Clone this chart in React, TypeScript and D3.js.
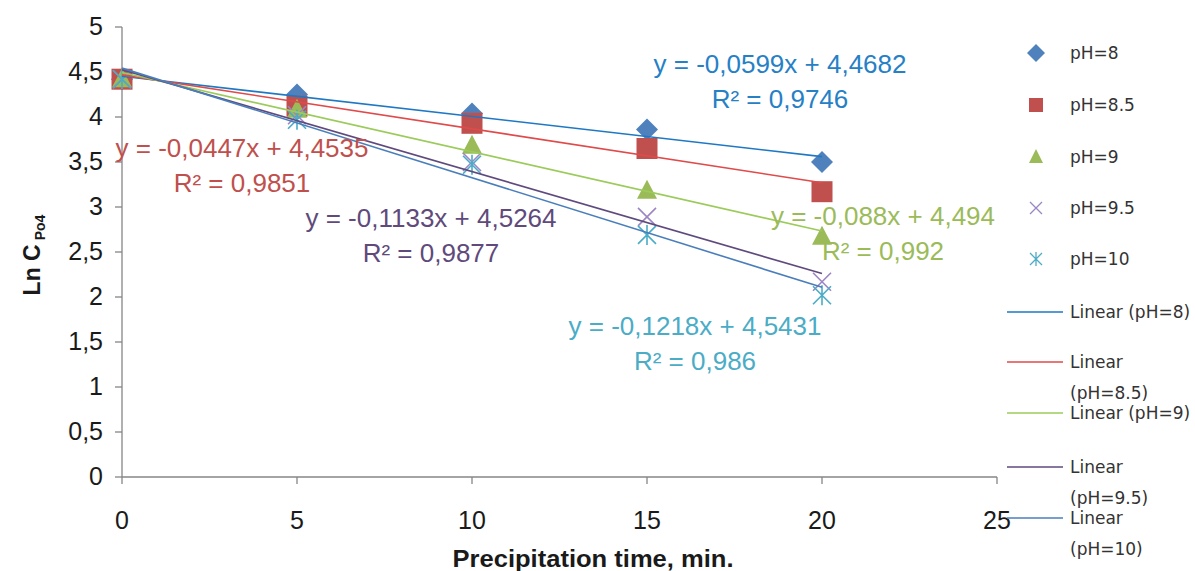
import React from "react";
import * as d3 from "d3";

const times = [0, 5, 10, 15, 20];
const seriesNames = ["pH=8", "pH=8.5", "pH=9", "pH=9.5", "pH=10"];
const pH8 = [4.42, 4.25, 4.04, 3.86, 3.5];
const pH85 = [4.42, 4.12, 3.93, 3.65, 3.17];
const pH9 = [4.42, 4.08, 3.68, 3.18, 2.67];
const pH95 = [4.42, 4.02, 3.5, 2.89, 2.17];
const pH10 = [4.42, 3.97, 3.47, 2.69, 2.02];
const seriesValues = [pH8, pH85, pH9, pH95, pH10];

// trendline coefficients (as printed on the chart)
const trendSlopes = [-0.0447, -0.0599, -0.088, -0.1133, -0.1218];
const trendIntercepts = [4.4535, 4.4682, 4.494, 4.5264, 4.5431];

const eqLine1 = ["y = -0,0599x + 4,4682", "y = -0,0447x + 4,4535", "y = -0,088x + 4,494", "y = -0,1133x + 4,5264", "y = -0,1218x + 4,5431"];
const eqLine2 = ["R² = 0,9746", "R² = 0,9851", "R² = 0,992", "R² = 0,9877", "R² = 0,986"];

const xTicks = [0, 5, 10, 15, 20, 25];
const yTicks = [0, 0.5, 1, 1.5, 2, 2.5, 3, 3.5, 4, 4.5, 5];

const markerColors = ["#4F81BD", "#C0504D", "#9BBB59", "#9B85C4", "#4BACC6"];
const trendColors = ["#1F78C4", "#E04A4A", "#9BCB5A", "#5F4A7E", "#4A7EBB"];
const eqColors = ["#2580C6", "#C0504D", "#9BBB59", "#604A7B", "#4BACC6"];
const eqPos = [
  { x: 780, y: 73 },
  { x: 242, y: 157 },
  { x: 883, y: 225 },
  { x: 431, y: 227 },
  { x: 695, y: 335 },
];

const W = 1195;
const H = 571;

function Marker({ kind, cx, cy, color }: { kind: number; cx: number; cy: number; color: string }) {
  if (kind === 0) {
    const r = 11;
    return <path d={`M${cx},${cy - r}L${cx + r},${cy}L${cx},${cy + r}L${cx - r},${cy}Z`} fill={color} />;
  }
  if (kind === 1) {
    const s = 21;
    return <rect x={cx - s / 2} y={cy - s / 2} width={s} height={s} fill={color} />;
  }
  if (kind === 2) {
    return <path d={`M${cx},${cy - 11}L${cx + 10},${cy + 8}L${cx - 10},${cy + 8}Z`} fill={color} />;
  }
  if (kind === 3) {
    const r = 9;
    return (
      <path
        d={`M${cx - r},${cy - r}L${cx + r},${cy + r}M${cx - r},${cy + r}L${cx + r},${cy - r}`}
        stroke={color}
        strokeWidth={1.6}
        fill="none"
      />
    );
  }
  const r = 9;
  return (
    <path
      d={`M${cx - r},${cy - r}L${cx + r},${cy + r}M${cx - r},${cy + r}L${cx + r},${cy - r}M${cx},${cy - 10}L${cx},${cy + 10}`}
      stroke={color}
      strokeWidth={1.6}
      fill="none"
    />
  );
}

export default function App() {
  const x = d3.scaleLinear().domain([0, 25]).range([122, 997]);
  const y = d3.scaleLinear().domain([0, 5]).range([477, 27]);
  const axisColor = "#868686";
  const font = "'Liberation Sans', Arial, sans-serif";
  const legendFont = "'DejaVu Sans', sans-serif";

  const legendRowsY = [53, 105, 157, 208, 259];
  const trendLegend = [
    { ly: 312, lines: ["Linear (pH=8)"] },
    { ly: 362, lines: ["Linear", "(pH=8.5)"] },
    { ly: 413, lines: ["Linear (pH=9)"] },
    { ly: 467, lines: ["Linear", "(pH=9.5)"] },
    { ly: 518, lines: ["Linear", "(pH=10)"] },
  ];

  const line = d3.line<number>();

  return (
    <svg width={W} height={H} style={{ position: "absolute", left: 0, top: 0, background: "#fff" }}>
      <rect x={0} y={0} width={W} height={H} fill="#fff" />
      {/* axes */}
      <line x1={x(0)} y1={y(5)} x2={x(0)} y2={y(0)} stroke={axisColor} strokeWidth={1.3} />
      <line x1={x(0)} y1={y(0)} x2={x(25)} y2={y(0)} stroke={axisColor} strokeWidth={1.3} />
      {yTicks.map((t) => (
        <g key={"y" + t}>
          <line x1={x(0) - 7} x2={x(0)} y1={y(t)} y2={y(t)} stroke={axisColor} strokeWidth={1.3} />
          <text x={103} y={y(t) + 8} textAnchor="end" fontFamily={font} fontSize={25} fill="#1a1a1a">
            {String(t).replace(".", ",")}
          </text>
        </g>
      ))}
      {xTicks.map((t) => (
        <g key={"x" + t}>
          <line x1={x(t)} x2={x(t)} y1={y(0)} y2={y(0) + 7} stroke={axisColor} strokeWidth={1.3} />
          <text x={x(t)} y={529} textAnchor="middle" fontFamily={font} fontSize={25} fill="#1a1a1a">
            {String(t)}
          </text>
        </g>
      ))}
      {/* axis titles */}
      <text
        x={593}
        y={567}
        textAnchor="middle"
        fontFamily={font}
        fontWeight="bold"
        fontSize={24}
        fill="#1a1a1a"
        textLength={281}
        lengthAdjust="spacingAndGlyphs"
      >
        Precipitation time, min.
      </text>
      <text
        transform="translate(40,255) rotate(-90)"
        textAnchor="middle"
        fontFamily={font}
        fontWeight="bold"
        fontSize={23}
        fill="#1a1a1a"
      >
        Ln C
        <tspan fontSize={14} dy={5} dx={4}>
          Po4
        </tspan>
      </text>
      {/* markers */}
      {seriesValues.map((vals, si) => (
        <g key={"m" + si}>
          {vals.map((v, i) => (
            <Marker key={i} kind={si} cx={x(times[i])} cy={y(v)} color={markerColors[si]} />
          ))}
        </g>
      ))}
      {/* trendlines */}
      {trendSlopes.map((s, si) => {
        const pts: [number, number][] = [times[0], times[times.length - 1]].map((t) => [
          x(t),
          y(s * t + trendIntercepts[si]),
        ]);
        return <path key={"t" + si} d={line(pts as any) || ""} stroke={trendColors[si]} strokeWidth={1.6} fill="none" />;
      })}
      {/* equation labels */}
      {eqLine1.map((t, i) => (
        <g key={"eq" + i} fontFamily={font} fontSize={26} fill={eqColors[i]} textAnchor="middle">
          <text x={eqPos[i].x} y={eqPos[i].y}>
            {t}
          </text>
          <text x={eqPos[i].x} y={eqPos[i].y + 35}>
            {eqLine2[i]}
          </text>
        </g>
      ))}
      {/* legend: series */}
      {seriesNames.map((n, i) => (
        <g key={"l" + i}>
          {i === 0 ? (
            <path d={`M1036,${legendRowsY[i] - 9}L1045,${legendRowsY[i]}L1036,${legendRowsY[i] + 9}L1027,${legendRowsY[i]}Z`} fill={markerColors[i]} />
          ) : i === 1 ? (
            <rect x={1029} y={legendRowsY[i] - 7} width={14} height={14} fill={markerColors[i]} />
          ) : i === 2 ? (
            <path d={`M1036,${legendRowsY[i] - 8}L1043,${legendRowsY[i] + 6}L1029,${legendRowsY[i] + 6}Z`} fill={markerColors[i]} />
          ) : i === 3 ? (
            <path
              d={`M1030,${legendRowsY[i] - 6}L1042,${legendRowsY[i] + 6}M1030,${legendRowsY[i] + 6}L1042,${legendRowsY[i] - 6}`}
              stroke={markerColors[i]}
              strokeWidth={1.3}
            />
          ) : (
            <path
              d={`M1030,${legendRowsY[i] - 6}L1042,${legendRowsY[i] + 6}M1030,${legendRowsY[i] + 6}L1042,${legendRowsY[i] - 6}M1036,${legendRowsY[i] - 7}L1036,${legendRowsY[i] + 7}`}
              stroke={markerColors[i]}
              strokeWidth={1.3}
            />
          )}
          <text x={1070} y={legendRowsY[i] + 6} fontFamily={legendFont} fontSize={17} fill="#333">
            {n}
          </text>
        </g>
      ))}
      {/* legend: trendlines */}
      {trendLegend.map((r, i) => (
        <g key={"tl" + i}>
          <line x1={1007} x2={1063} y1={r.ly} y2={r.ly} stroke={trendColors[i]} strokeWidth={1.6} />
          {r.lines.map((s, j) => (
            <text key={j} x={1070} y={r.ly + 6 + j * 31} fontFamily={legendFont} fontSize={17} fill="#333">
              {s}
            </text>
          ))}
        </g>
      ))}
    </svg>
  );
}
